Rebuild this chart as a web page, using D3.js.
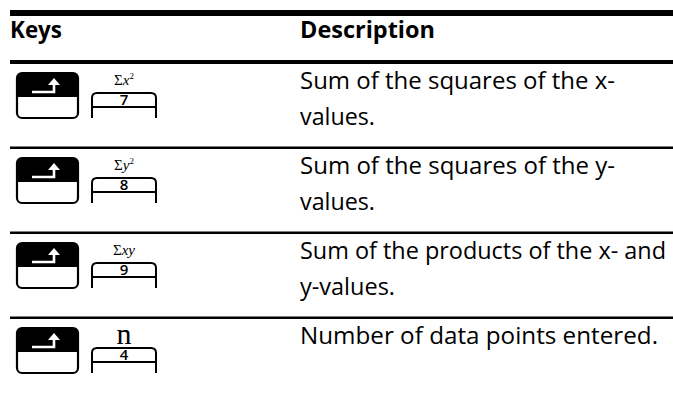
<!DOCTYPE html>
<html><head><meta charset="utf-8">
<script src="https://cdn.jsdelivr.net/npm/d3@7"></script>
<style>html,body{margin:0;padding:0;background:#fff;}</style>
</head><body>
<script>
// ---- data ----
const headers = ["Keys", "Description"];
const keyLabels = ["x2", "y2", "xy", "n"];
const keyDigits = ["7", "8", "9", "4"];
const descLines = [
  ["Sum of the squares of the x-", "values."],
  ["Sum of the squares of the y-", "values."],
  ["Sum of the products of the x- and", "y-values."],
  ["Number of data points entered."]
];
const descWidths = [
  [315, 75],
  [315, 75],
  [366, 95],
  [358]
];

const W = 673, H = 396;
const svg = d3.select("body").append("svg").attr("width", W).attr("height", H);

const y = d3.scaleBand().domain(d3.range(4)).range([64, 404]);
const xCol = d3.scaleOrdinal().domain(headers).range([10, 300]);

const bodyFont = "'Open Sans', 'DejaVu Sans', sans-serif";

// top rule
svg.append("rect").attr("x", 10).attr("y", 10).attr("width", W - 10).attr("height", 6).attr("fill", "#000");
// header
svg.selectAll("text.h").data(headers).enter().append("text")
  .attr("class", "h")
  .attr("x", d => xCol(d)).attr("y", 38)
  .attr("font-family", bodyFont).attr("font-weight", 700).attr("font-size", 23)
  .attr("textLength", (d, i) => i === 0 ? 52 : 135).attr("lengthAdjust", "spacingAndGlyphs")
  .attr("fill", "#000").text(d => d);
// header bottom rule
svg.append("rect").attr("x", 10).attr("y", 60).attr("width", W - 10).attr("height", 4).attr("fill", "#000");

// row separators
svg.selectAll("rect.sep").data(d3.range(1, 4)).enter().append("rect")
  .attr("class", "sep")
  .attr("x", 10).attr("y", d => y(d) - 2.5).attr("width", W - 10).attr("height", 2.5).attr("fill", "#000");

const rows = svg.selectAll("g.row").data(d3.range(4)).enter().append("g")
  .attr("class", "row").attr("transform", d => `translate(0,${y(d)})`);

// shift key
const kx = 17, kw = 61, kt = 9, kh = 45, r = 5;
rows.append("path")
  .attr("d", `M${kx},${kt + 24} L${kx},${kt + r} Q${kx},${kt} ${kx + r},${kt} L${kx + kw - r},${kt} Q${kx + kw},${kt} ${kx + kw},${kt + r} L${kx + kw},${kt + 24} Z`)
  .attr("fill", "#000");
rows.append("rect")
  .attr("x", kx).attr("y", kt).attr("width", kw).attr("height", kh).attr("rx", r)
  .attr("fill", "none").attr("stroke", "#000").attr("stroke-width", 2.2);
// arrow
rows.append("path")
  .attr("d", `M32,${kt + 19} L54,${kt + 19} L54,${kt + 11}`)
  .attr("fill", "none").attr("stroke", "#fff").attr("stroke-width", 2.6);
rows.append("path")
  .attr("d", `M48,${kt + 12} L54,${kt + 5} L60,${kt + 12} Z`)
  .attr("fill", "#fff");

// number key
const nx = 92, nw = 64, ntop = 29, nsep = 43, nbot = 54, nr = 5;
rows.append("path")
  .attr("d", `M${nx},${nbot} L${nx},${ntop + nr} Q${nx},${ntop} ${nx + nr},${ntop} L${nx + nw - nr},${ntop} Q${nx + nw},${ntop} ${nx + nw},${ntop + nr} L${nx + nw},${nbot}`)
  .attr("fill", "none").attr("stroke", "#000").attr("stroke-width", 2);
rows.append("line")
  .attr("x1", nx).attr("x2", nx + nw).attr("y1", nsep).attr("y2", nsep)
  .attr("stroke", "#000").attr("stroke-width", 2);
rows.append("text")
  .attr("x", nx + nw / 2).attr("y", 40.5).attr("text-anchor", "middle")
  .attr("font-family", bodyFont).attr("font-weight", 600).attr("font-size", 15).attr("fill", "#000")
  .text(d => keyDigits[d]);

// key labels (serif)
rows.each(function (d) {
  const g = d3.select(this);
  const lab = keyLabels[d];
  const t = g.append("text").attr("x", nx + nw / 2).attr("text-anchor", "middle")
    .attr("font-family", "'Liberation Serif', 'DejaVu Serif', serif").attr("fill", "#000");
  if (lab === "n") {
    t.attr("y", 25).attr("font-size", 30).text("n");
  } else {
    t.attr("y", 21).attr("font-size", 15);
    t.append("tspan").text("\u03A3");
    if (lab === "xy") {
      t.append("tspan").attr("font-style", "italic").text("xy");
    } else {
      t.append("tspan").attr("font-style", "italic").text(lab[0]);
      t.append("tspan").attr("font-size", 9).attr("dy", -6).text("2");
    }
  }
});

// descriptions
rows.each(function (d) {
  d3.select(this).selectAll("text.desc").data(descLines[d]).enter().append("text")
    .attr("class", "desc")
    .attr("x", xCol("Description")).attr("y", (s, j) => 25 + j * 36)
    .attr("font-family", bodyFont).attr("font-size", 23).attr("fill", "#000")
    .attr("textLength", (s, j) => descWidths[d][j]).attr("lengthAdjust", "spacingAndGlyphs")
    .text(s => s);
});
</script>
</body></html>
